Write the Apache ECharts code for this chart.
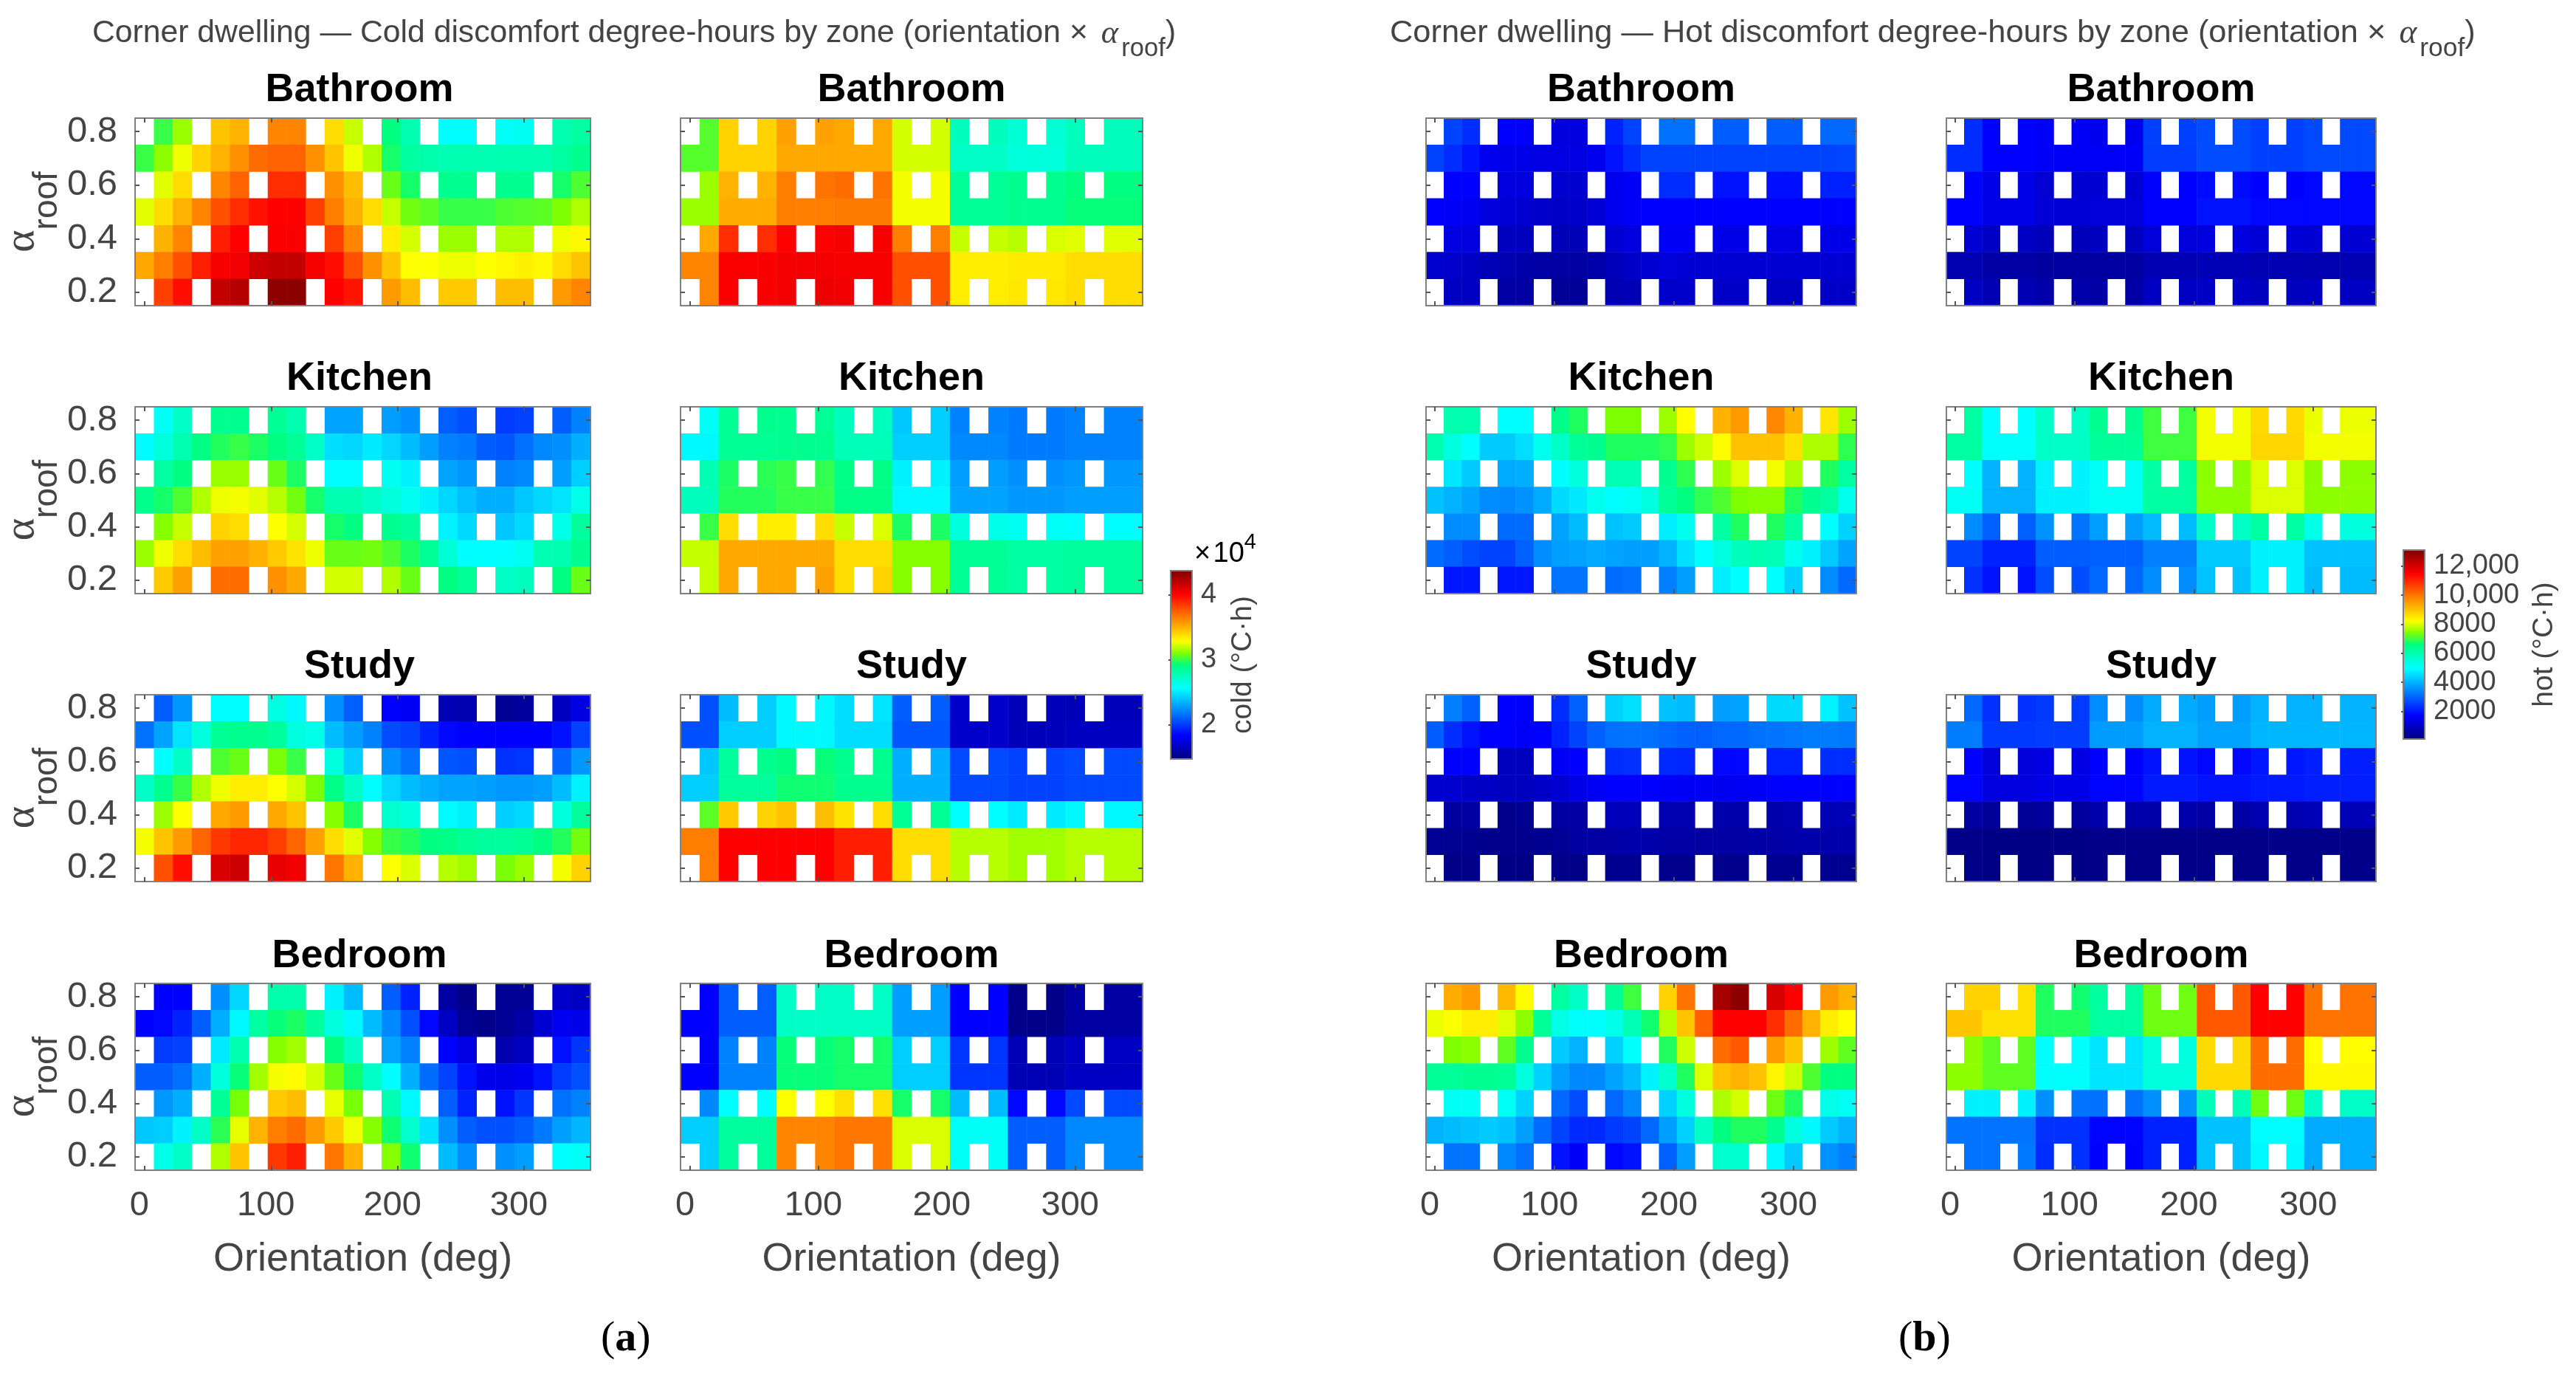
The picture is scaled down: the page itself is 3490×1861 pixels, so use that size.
<!DOCTYPE html>
<html>
<head>
<meta charset="utf-8">
<style>html,body{margin:0;padding:0;background:#fff}#chart{width:3490px;height:1861px}</style>
<script src="https://cdn.jsdelivr.net/npm/echarts@6/dist/echarts.min.js"></script>
</head>
<body>
<div id="chart"></div>
<script>
const _ = null;
const orientations = [0,15,30,45,60,75,90,105,120,135,150,165,180,195,210,225,240,255,270,285,300,315,330,345];
const alphaRoof = [0.8,0.7,0.6,0.5,0.4,0.3,0.2];
const xTicks = [0,100,200,300];
const yTicks = [0.2,0.4,0.6,0.8];
const zones = ['Bathroom','Kitchen','Study','Bedroom'];

// Cold discomfort, in units of 10^4 degC.h (rows run from alpha 0.8 down to 0.2)
const coldBathroomA = [
[_,3.00,3.14,_,3.45,3.50,_,3.63,3.63,_,3.38,3.20,_,2.92,2.78,_,2.56,2.56,_,2.58,2.60,_,2.78,2.83],
[3.00,3.12,3.26,3.41,3.50,3.60,3.70,3.73,3.73,3.60,3.45,3.26,3.17,2.95,2.83,2.80,2.78,2.78,2.78,2.78,2.78,2.78,2.83,2.88],
[_,3.24,3.38,_,3.63,3.73,_,3.88,3.88,_,3.60,3.47,_,3.07,2.95,_,2.88,2.88,_,2.88,2.88,_,2.95,3.03],
[3.24,3.38,3.50,3.63,3.78,3.88,3.96,4.01,4.01,3.83,3.65,3.50,3.38,3.20,3.08,3.05,3.00,3.00,3.00,3.03,3.04,3.05,3.10,3.17],
[_,3.50,3.63,_,3.92,4.01,_,4.02,4.02,_,3.83,3.63,_,3.33,3.22,_,3.14,3.14,_,3.17,3.17,_,3.26,3.30],
[3.53,3.65,3.78,3.92,4.03,4.05,4.15,4.18,4.18,4.03,3.97,3.78,3.60,3.45,3.28,3.28,3.26,3.26,3.28,3.30,3.32,3.30,3.38,3.45],
[_,3.83,3.97,_,4.18,4.22,_,4.33,4.33,_,4.01,3.95,_,3.57,3.47,_,3.43,3.43,_,3.47,3.47,_,3.57,3.63]];
const coldBathroomB = [
[_,3.04,3.41,_,3.41,3.55,_,3.55,3.53,_,3.53,3.22,_,3.22,2.75,_,2.75,2.68,_,2.68,2.75,_,2.75,2.75],
[3.04,3.04,3.41,3.41,3.41,3.53,3.53,3.53,3.53,3.53,3.53,3.22,3.22,3.22,2.72,2.72,2.72,2.66,2.66,2.66,2.75,2.75,2.75,2.75],
[_,3.14,3.50,_,3.50,3.65,_,3.68,3.70,_,3.68,3.27,_,3.27,2.85,_,2.85,2.88,_,2.88,2.92,_,2.92,2.92],
[3.14,3.14,3.52,3.52,3.52,3.65,3.65,3.65,3.66,3.66,3.66,3.27,3.27,3.27,2.85,2.85,2.85,2.88,2.88,2.88,2.93,2.93,2.93,2.93],
[_,3.53,3.88,_,3.88,4.01,_,4.01,4.03,_,4.03,3.65,_,3.65,3.20,_,3.20,3.18,_,3.23,3.24,_,3.24,3.24],
[3.63,3.63,4.02,4.02,4.02,4.04,4.04,4.04,4.03,4.03,4.03,3.78,3.78,3.78,3.33,3.33,3.33,3.34,3.34,3.34,3.38,3.38,3.38,3.38],
[_,3.63,4.02,_,4.02,4.04,_,4.06,4.05,_,4.03,3.78,_,3.78,3.33,_,3.33,3.35,_,3.35,3.38,_,3.38,3.38]];
const coldKitchenA = [
[_,2.58,2.72,_,2.88,2.88,_,2.86,2.78,_,2.30,2.30,_,2.28,2.24,_,2.10,2.06,_,2.00,2.02,_,2.10,2.20],
[2.55,2.66,2.78,2.92,2.97,3.00,2.96,2.92,2.86,2.72,2.46,2.44,2.50,2.44,2.37,2.28,2.20,2.18,2.10,2.08,2.15,2.22,2.24,2.33],
[_,2.83,2.92,_,3.14,3.14,_,3.07,2.96,_,2.56,2.56,_,2.60,2.52,_,2.30,2.26,_,2.20,2.22,_,2.28,2.42],
[2.88,2.95,3.03,3.17,3.26,3.27,3.24,3.18,3.08,2.95,2.78,2.78,2.72,2.66,2.60,2.52,2.44,2.38,2.33,2.33,2.40,2.44,2.48,2.62],
[_,3.11,3.20,_,3.41,3.38,_,3.28,3.22,_,2.95,2.92,_,2.88,2.84,_,2.52,2.45,_,2.40,2.45,_,2.62,2.84],
[3.14,3.26,3.38,3.47,3.55,3.55,3.50,3.43,3.36,3.26,3.07,3.07,3.08,3.03,2.96,2.85,2.68,2.56,2.56,2.56,2.60,2.78,2.78,2.88],
[_,3.43,3.55,_,3.70,3.70,_,3.60,3.53,_,3.22,3.22,_,3.17,3.07,_,2.92,2.85,_,2.72,2.75,_,2.92,3.07]];
const coldKitchenB = [
[_,2.58,2.86,_,2.88,2.88,_,2.86,2.75,_,2.75,2.40,_,2.42,2.20,_,2.20,2.18,_,2.18,2.20,_,2.20,2.20],
[2.54,2.54,2.86,2.86,2.86,2.88,2.88,2.88,2.76,2.76,2.76,2.42,2.42,2.42,2.22,2.22,2.22,2.18,2.18,2.18,2.20,2.20,2.20,2.20],
[_,2.78,2.96,_,2.98,3.00,_,2.99,2.90,_,2.90,2.52,_,2.52,2.28,_,2.28,2.24,_,2.24,2.26,_,2.26,2.26],
[2.75,2.75,2.97,2.97,2.97,3.00,3.00,3.00,2.90,2.90,2.90,2.54,2.54,2.54,2.30,2.30,2.30,2.26,2.26,2.26,2.28,2.28,2.28,2.28],
[_,3.00,3.38,_,3.33,3.33,_,3.38,3.20,_,3.23,2.96,_,2.96,2.65,_,2.62,2.60,_,2.58,2.56,_,2.56,2.56],
[3.20,3.20,3.53,3.53,3.53,3.53,3.53,3.53,3.38,3.38,3.38,3.11,3.11,3.11,2.86,2.86,2.86,2.82,2.82,2.82,2.84,2.84,2.84,2.84],
[_,3.20,3.53,_,3.53,3.53,_,3.55,3.38,_,3.41,3.11,_,3.11,2.86,_,2.86,2.82,_,2.82,2.84,_,2.84,2.84]];
const coldStudyA = [
[_,2.10,2.26,_,2.56,2.56,_,2.64,2.54,_,2.24,2.10,_,1.83,1.80,_,1.62,1.60,_,1.53,1.55,_,1.65,1.75],
[2.15,2.30,2.48,2.66,2.86,2.88,2.88,2.84,2.65,2.62,2.37,2.28,2.20,2.05,2.02,1.93,1.85,1.83,1.83,1.83,1.83,1.83,1.88,2.02],
[_,2.56,2.72,_,3.03,3.07,_,3.09,3.00,_,2.65,2.42,_,2.24,2.15,_,2.08,2.06,_,1.97,1.98,_,2.12,2.26],
[2.72,2.88,3.00,3.17,3.26,3.33,3.33,3.28,3.22,3.09,2.90,2.72,2.56,2.44,2.37,2.33,2.30,2.30,2.28,2.26,2.26,2.28,2.37,2.52],
[_,3.14,3.28,_,3.53,3.57,_,3.53,3.45,_,3.11,2.96,_,2.70,2.65,_,2.55,2.52,_,2.42,2.45,_,2.65,2.84],
[3.27,3.45,3.57,3.72,3.85,3.90,3.90,3.83,3.72,3.55,3.38,3.24,3.11,3.00,2.97,2.92,2.90,2.86,2.84,2.84,2.86,2.92,2.97,3.08],
[_,3.78,3.97,_,4.12,4.15,_,4.07,4.05,_,3.67,3.50,_,3.28,3.23,_,3.18,3.15,_,3.09,3.14,_,3.27,3.41]];
const coldStudyB = [
[_,2.06,2.37,_,2.42,2.54,_,2.54,2.46,_,2.48,2.10,_,2.10,1.68,_,1.68,1.63,_,1.63,1.63,_,1.63,1.63],
[2.06,2.06,2.42,2.42,2.42,2.54,2.54,2.54,2.46,2.46,2.46,2.08,2.08,2.08,1.68,1.68,1.68,1.63,1.63,1.63,1.65,1.65,1.65,1.65],
[_,2.40,2.84,_,2.88,2.92,_,2.93,2.88,_,2.88,2.33,_,2.33,2.04,_,2.04,2.02,_,2.02,2.04,_,2.04,2.04],
[2.42,2.42,2.84,2.84,2.84,2.94,2.94,2.94,2.88,2.88,2.88,2.33,2.33,2.33,2.04,2.04,2.04,2.02,2.02,2.02,2.04,2.04,2.04,2.04],
[_,3.05,3.43,_,3.41,3.45,_,3.47,3.36,_,3.38,2.86,_,2.86,2.56,_,2.56,2.50,_,2.50,2.54,_,2.54,2.54],
[3.65,3.65,4.01,4.01,4.01,4.01,4.01,4.01,3.92,3.92,3.92,3.38,3.38,3.38,3.18,3.18,3.18,3.15,3.15,3.15,3.18,3.18,3.18,3.18],
[_,3.65,4.01,_,4.01,4.01,_,4.01,3.92,_,3.92,3.38,_,3.38,3.18,_,3.18,3.15,_,3.15,3.18,_,3.18,3.18]];
const coldBedroomA = [
[_,1.83,1.83,_,2.24,2.44,_,2.80,2.80,_,2.52,2.37,_,2.10,1.93,_,1.57,1.50,_,1.53,1.53,_,1.68,1.66],
[1.83,1.85,1.93,2.10,2.33,2.54,2.82,2.93,2.96,2.84,2.65,2.54,2.37,2.22,2.06,1.85,1.66,1.52,1.50,1.53,1.58,1.70,1.79,1.77],
[_,2.00,2.02,_,2.50,2.78,_,3.11,3.15,_,2.92,2.72,_,2.30,2.20,_,1.83,1.75,_,1.60,1.65,_,1.88,1.98],
[2.10,2.10,2.15,2.33,2.66,2.93,3.15,3.27,3.29,3.22,3.07,2.94,2.72,2.56,2.33,2.14,2.02,1.88,1.78,1.77,1.79,1.88,2.00,2.06],
[_,2.26,2.33,_,2.86,3.09,_,3.43,3.47,_,3.25,3.09,_,2.78,2.54,_,2.10,1.93,_,1.88,1.98,_,2.15,2.20],
[2.40,2.42,2.52,2.72,2.98,3.25,3.50,3.65,3.70,3.57,3.43,3.26,3.11,2.94,2.70,2.47,2.24,2.10,2.06,2.06,2.10,2.18,2.28,2.35],
[_,2.62,2.72,_,3.17,3.45,_,3.85,3.92,_,3.67,3.50,_,3.11,2.94,_,2.37,2.24,_,2.24,2.28,_,2.56,2.58]];
const coldBedroomB = [
[_,1.83,2.10,_,2.10,2.72,_,2.72,2.72,_,2.72,2.28,_,2.28,1.83,_,1.83,1.50,_,1.50,1.57,_,1.57,1.57],
[1.83,1.83,2.10,2.10,2.10,2.72,2.72,2.72,2.72,2.72,2.72,2.28,2.28,2.28,1.83,1.83,1.83,1.50,1.50,1.50,1.57,1.57,1.57,1.57],
[_,1.83,2.20,_,2.20,2.93,_,2.93,2.95,_,2.95,2.42,_,2.42,1.98,_,1.98,1.62,_,1.62,1.66,_,1.66,1.66],
[1.83,1.83,2.20,2.20,2.20,2.93,2.93,2.93,2.95,2.95,2.95,2.42,2.42,2.42,1.98,1.98,1.98,1.62,1.62,1.62,1.66,1.66,1.66,1.66],
[_,2.22,2.56,_,2.56,3.28,_,3.28,3.37,_,3.37,2.95,_,2.95,2.37,_,2.37,1.85,_,1.85,2.04,_,2.04,2.04],
[2.42,2.42,2.84,2.84,2.84,3.63,3.63,3.63,3.67,3.67,3.67,3.23,3.23,3.23,2.58,2.58,2.58,2.10,2.10,2.10,2.22,2.22,2.22,2.22],
[_,2.42,2.84,_,2.84,3.63,_,3.63,3.67,_,3.67,3.23,_,3.23,2.58,_,2.58,2.10,_,2.10,2.22,_,2.22,2.22]];

// Hot discomfort, degC.h
const hotBathroomA = [
[_,2570,2300,_,1725,1700,_,1300,1300,_,2150,2570,_,3150,3150,_,2900,2900,_,2900,2900,_,3050,3050],
[2570,2300,1950,1500,1450,1400,1350,1350,1350,1500,1950,2300,2570,2570,2570,2570,2570,2570,2570,2570,2570,2570,2570,2600],
[_,1725,1725,_,1300,1300,_,1100,1100,_,1500,1650,_,2300,2300,_,1950,1950,_,1900,1900,_,2150,2150],
[1725,1650,1550,1300,1200,1100,1050,1000,1050,1200,1500,1650,1725,1725,1725,1725,1725,1725,1725,1725,1725,1725,1725,1725],
[_,1350,1300,_,900,900,_,800,800,_,1150,1300,_,1600,1600,_,1400,1400,_,1350,1350,_,1400,1400],
[1100,1050,950,800,700,650,600,550,550,650,850,1000,1150,1250,1200,1150,1150,1150,1150,1150,1150,1150,1150,1150],
[_,950,950,_,600,550,_,400,400,_,750,800,_,1050,1050,_,1000,1000,_,950,950,_,1000,1000]];
const hotBathroomB = [
[_,2300,1725,_,1725,1650,_,1650,1500,_,1500,2550,_,2550,2700,_,2700,2550,_,2550,2650,_,2650,2650],
[2300,2300,1725,1725,1725,1650,1650,1650,1650,1650,1650,2500,2500,2500,2700,2700,2700,2550,2550,2550,2650,2650,2650,2650],
[_,1725,1400,_,1400,1150,_,1150,1150,_,1150,1725,_,1725,1850,_,1850,1725,_,1725,1800,_,1800,1800],
[1725,1725,1400,1400,1400,1200,1200,1200,1250,1250,1250,1725,1725,1725,1950,1950,1950,1800,1800,1800,1800,1800,1800,1800],
[_,1150,950,_,950,850,_,850,900,_,900,1250,_,1250,1300,_,1300,1200,_,1200,1150,_,1150,1150],
[700,700,600,600,600,500,500,500,520,520,520,750,750,750,800,800,800,750,750,750,720,720,720,720],
[_,950,750,_,750,650,_,650,600,_,600,950,_,950,1000,_,1000,900,_,900,950,_,950,950]];
const hotKitchenA = [
[_,6000,6000,_,4975,4975,_,6500,6800,_,7400,7400,_,7600,8250,_,9200,9500,_,9750,9200,_,8550,7600],
[6000,5400,4950,4300,4300,4550,5200,5700,6300,6400,6800,6800,6800,6900,7600,7900,8250,9000,9000,9000,8600,7700,7700,6900],
[_,4700,4300,_,3900,3950,_,4975,5400,_,5900,5900,_,6400,6900,_,7600,8000,_,8150,7700,_,6800,6200],
[4200,4000,3800,3500,3450,3600,3900,4500,4700,5200,4975,5100,5400,6300,6600,6900,7100,7400,7450,7450,6800,6400,6200,5200],
[_,3500,3500,_,3100,3100,_,3800,4130,_,4200,4300,_,4750,5200,_,6200,6800,_,6800,6200,_,4975,4400],
[3100,2900,2700,2570,2570,2950,3500,3740,3800,3900,3800,3740,3740,4000,4600,4975,5400,5800,6000,5900,5200,4800,4300,3800],
[_,2000,2000,_,2000,2000,_,3200,3200,_,3100,3150,_,3350,3740,_,4750,4975,_,4975,4400,_,3500,3050]];
const hotKitchenB = [
[_,6200,4975,_,4975,5700,_,5700,6400,_,6400,7000,_,7000,8150,_,8150,8700,_,8700,8100,_,8100,8100],
[6200,6200,5000,5000,5000,5700,5700,5700,6300,6300,6300,7000,7000,7000,8150,8150,8150,8750,8750,8750,8150,8150,8150,8150],
[_,4975,4000,_,4000,4800,_,4800,5100,_,5100,6200,_,6200,7500,_,7500,8000,_,8000,7500,_,7500,7500],
[5100,5100,4000,4000,4000,4800,4800,4800,5100,5100,5100,6200,6200,6200,7500,7500,7500,8000,8000,8000,7500,7500,7500,7500],
[_,3500,2950,_,2950,3600,_,3200,3740,_,3740,4130,_,4130,5700,_,5700,6200,_,6200,5300,_,5400,5400],
[2570,2570,2150,2150,2150,2900,2900,2900,2950,2950,2950,3350,3350,3350,4300,4300,4300,4800,4800,4800,4200,4200,4200,4200],
[_,2350,1950,_,1950,2700,_,2700,3050,_,3050,3500,_,3500,4200,_,4200,4800,_,4800,4130,_,4130,4130]];
const hotStudyA = [
[_,3350,2950,_,1725,1725,_,2300,2950,_,4400,4600,_,4200,4130,_,3740,3800,_,4500,4500,_,4800,4200],
[2900,2300,1950,1725,1700,1650,1725,2150,2570,2950,3150,3200,3150,3050,2950,2950,3050,3050,3150,3200,3250,3300,3300,3250],
[_,1725,1700,_,900,900,_,1600,1725,_,2300,2350,_,2250,2200,_,1800,1800,_,2150,2150,_,2300,2300],
[1100,1100,1000,950,900,900,1000,1150,1400,1600,1725,1725,1725,1650,1600,1600,1550,1600,1650,1700,1725,1725,1725,1725],
[_,500,500,_,250,300,_,500,600,_,850,850,_,700,700,_,650,650,_,650,700,_,800,800],
[350,320,300,250,250,250,300,350,500,550,600,650,650,600,600,550,550,550,600,600,650,650,650,650],
[_,200,200,_,150,150,_,200,200,_,300,300,_,250,250,_,250,250,_,300,300,_,300,300]];
const hotStudyB = [
[_,3050,2350,_,2350,2450,_,2450,3500,_,3500,3900,_,3900,3740,_,3740,4000,_,4000,4000,_,4000,4000],
[3300,3300,2450,2450,2450,2500,2500,2500,3700,3700,3700,4000,4000,4000,3800,3800,3800,4050,4050,4050,4050,4050,4050,4050],
[_,1725,1250,_,1250,1350,_,1350,1725,_,1725,1950,_,1950,1800,_,1800,2000,_,2000,2100,_,2100,2100],
[1750,1750,1300,1300,1300,1400,1400,1400,1750,1750,1750,2050,2050,2050,1950,1950,1950,2050,2050,2050,2100,2100,2100,2100],
[_,500,400,_,400,450,_,450,650,_,650,650,_,650,600,_,600,700,_,700,800,_,800,800],
[200,200,170,170,170,180,180,180,230,230,230,230,230,230,220,220,220,230,230,230,240,240,240,240],
[_,200,160,_,160,170,_,170,220,_,220,220,_,220,210,_,210,220,_,220,240,_,240,240]];
const hotBedroomA = [
[_,9300,9500,_,9100,8250,_,6200,5700,_,6300,7000,_,8800,10000,_,12600,12950,_,12000,11475,_,9500,9200],
[8100,8200,8450,8450,8000,7500,6300,5300,5000,4975,5300,5900,6700,7750,8950,10240,11475,11475,11475,10900,10100,9200,8450,8250],
[_,7400,7500,_,7200,6400,_,4300,4000,_,4400,4975,_,6800,7900,_,10100,10350,_,9500,8950,_,7600,7200],
[6300,6300,6400,6400,6300,5400,4400,3740,3450,3450,3800,4130,4800,5600,6800,8000,9000,9200,9000,8350,7900,7100,6600,6600],
[_,5100,5100,_,5100,4400,_,3050,2700,_,3050,3450,_,4400,5400,_,7700,7950,_,7300,6800,_,5300,5100],
[4000,4130,4200,4300,4200,3740,3100,2570,2250,2250,2450,2570,3050,3740,4400,5700,6600,6800,6800,6400,5400,4900,4300,4000],
[_,3200,3200,_,3450,3150,_,1950,1650,_,1800,1950,_,2950,3740,_,5600,5600,_,4900,4300,_,3600,3350]];
const hotBedroomB = [
[_,8800,8800,_,8600,6800,_,6700,6200,_,6200,7300,_,7300,10350,_,10350,11475,_,11475,10000,_,10000,10000],
[8950,8950,8600,8600,8600,6800,6800,6800,6200,6200,6200,7300,7300,7300,10350,10350,10350,11475,11475,11475,10000,10000,10000,10000],
[_,7500,7200,_,7200,5000,_,5000,4650,_,4650,5400,_,5400,8700,_,8700,10100,_,10100,8250,_,8250,8250],
[7500,7500,7200,7200,7200,5000,5000,5000,4650,4650,4650,5400,5400,5400,8700,8700,8700,10100,10100,10100,8300,8300,8300,8300],
[_,4800,4800,_,4800,3550,_,3200,3150,_,3150,3550,_,3550,5900,_,5900,7300,_,7300,5700,_,5700,5700],
[3200,3200,3200,3200,3200,2350,2350,2350,1750,1750,1750,2150,2150,2150,4200,4200,4200,4975,4975,4975,3900,3900,3900,3900],
[_,3200,3200,_,3250,2300,_,2350,1725,_,1725,2150,_,2150,4200,_,4200,4900,_,4900,3900,_,3900,3900]];

const coldRange = [1.47,4.37];
const hotRange = [100,13100];
const coldBarTicks = [2,3,4];
const hotBarTicks = [2000,4000,6000,8000,10000,12000];
const hotBarLabels = ['2000','4000','6000','8000','10,000','12,000'];

const jet = ['#000080','#0000c0','#0000ff','#0040ff','#0080ff','#00bfff','#00ffff','#00ffc0','#00ff80','#80ff00','#ffff00','#ffbf00','#ff8000','#ff4000','#ff0000','#bf0000','#800000'];

const panelData = [
  coldBathroomA,coldBathroomB,coldKitchenA,coldKitchenB,coldStudyA,coldStudyB,coldBedroomA,coldBedroomB,
  hotBathroomA,hotBathroomB,hotKitchenA,hotKitchenB,hotStudyA,hotStudyB,hotBedroomA,hotBedroomB
];

const FONT = 'Liberation Sans';
const GREY = '#444444';
const AX = '#808080';
const colX = [[174,626],[922,626],[1932,583],[2637,582]];
const rowY = [[160,254],[551,253],[941,253],[1332,253]];
const titleTop = [95,486,876,1268];

const grid=[],xAxis=[],yAxis=[],series=[],title=[];
panelData.forEach((data,i)=>{
  const side = i<8 ? 0 : 1;
  const r = Math.floor((i%8)/2), c = (i%8)%2;
  const [gx,gw] = colX[side*2+c];
  const [gy,gh] = rowY[r];
  grid.push({left:gx,top:gy,width:gw,height:gh,containLabel:false});
  const bottomRow = r===3, hasY = side===0 && c===0;
  const xBase = {gridIndex:i,type:'value',min:-7.5,max:352.5,splitLine:{show:false},z:5,
    axisLine:{show:true,onZero:false,lineStyle:{color:AX,width:2}},
    axisTick:{show:true,inside:true,length:6,customValues:xTicks,lineStyle:{color:'#555',width:2}}};
  const yBase = {gridIndex:i,type:'value',min:0.15,max:0.85,splitLine:{show:false},z:5,
    axisLine:{show:true,onZero:false,lineStyle:{color:AX,width:2}},
    axisTick:{show:true,inside:true,length:6,customValues:yTicks,lineStyle:{color:'#555',width:2}}};
  xAxis.push({gridIndex:i,type:'category',show:false,data:orientations});
  xAxis.push(Object.assign({},xBase,{position:'bottom',
    axisLabel:{show:bottomRow,customValues:xTicks,margin:25,padding:[0,14,0,0],fontFamily:FONT,fontSize:47,color:GREY,formatter:v=>String(v)},
    name:bottomRow?'Orientation (deg)':'',nameLocation:'middle',nameGap:94,
    nameTextStyle:{fontFamily:FONT,fontSize:54,color:GREY}}));
  xAxis.push(Object.assign({},xBase,{position:'top',axisLabel:{show:false}}));
  yAxis.push({gridIndex:i,type:'category',show:false,inverse:true,data:alphaRoof});
  yAxis.push(Object.assign({},yBase,{position:'left',
    axisLabel:{show:hasY,customValues:yTicks,margin:24,padding:[4,0,0,0],fontFamily:FONT,fontSize:49,color:GREY,formatter:v=>v.toFixed(1)},
    name:hasY?'{a|α}{r|roof}':'',nameLocation:'middle',nameRotate:90,nameGap:96,
    nameTextStyle:{padding:[0,0,0,0],rich:{
      a:{fontFamily:'Liberation Serif',fontSize:58,color:GREY,lineHeight:40,verticalAlign:'top'},
      r:{fontFamily:FONT,fontSize:46,color:GREY,lineHeight:86,verticalAlign:'bottom'}}}}));
  yAxis.push(Object.assign({},yBase,{position:'right',axisLabel:{show:false}}));
  const cells=[];
  data.forEach((row,ry)=>row.forEach((v,cx)=>{ if(v!==null) cells.push([cx,ry,v]); }));
  series.push({type:'heatmap',name:zones[r],xAxisIndex:3*i,yAxisIndex:3*i,data:cells,progressive:0,
    itemStyle:{borderWidth:0},emphasis:{disabled:true}});
  title.push({text:zones[r],left:gx+gw/2,top:titleTop[r],textAlign:'center',padding:0,
    textStyle:{fontFamily:FONT,fontWeight:'bold',fontSize:54,color:'#000',lineHeight:54}});
});

function barAxes(idx,left,top,h,range,ticks,labels,name,gap){
  grid.push({left:left,top:top,width:29,height:h,show:true,borderColor:AX,borderWidth:2,backgroundColor:'transparent',z:6});
  xAxis.push({gridIndex:idx,type:'value',show:false,min:0,max:1});
  yAxis.push({gridIndex:idx,type:'value',position:'right',min:range[0],max:range[1],splitLine:{show:false},z:7,
    axisLine:{show:false},
    axisTick:{show:true,inside:true,length:3,customValues:ticks,lineStyle:{color:'#555',width:2}},
    axisLabel:{customValues:ticks,margin:12,padding:[8,0,0,0],fontFamily:FONT,fontSize:38,color:GREY,
      formatter:v=>labels?labels[ticks.indexOf(v)]:String(v)},
    name:name,nameLocation:'middle',nameRotate:90,nameGap:gap,
    nameTextStyle:{fontFamily:FONT,fontSize:39,color:GREY}});
}
barAxes(16,1586,773,255,coldRange,coldBarTicks,null,'cold (°C·h)',50);
barAxes(17,3256,745,256,hotRange,hotBarTicks,hotBarLabels,'hot (°C·h)',143);

function richTitle(size){
  return {
    t:{fontFamily:FONT,fontWeight:'normal',fontSize:size,color:GREY,lineHeight:44,verticalAlign:'top'},
    a:{fontFamily:'Liberation Serif',fontWeight:'normal',fontStyle:'italic',fontSize:size+2,color:GREY,lineHeight:44,verticalAlign:'top',padding:[0,0,0,6]},
    s:{fontFamily:FONT,fontWeight:'normal',fontSize:size-8,color:GREY,lineHeight:84,padding:[0,0,0,4]}
  };
}
title.push({text:'{t|Corner dwelling — Cold discomfort degree-hours by zone (orientation × }{a|α}{s|roof}{t|)}',left:125,top:24,padding:0,textStyle:{fontWeight:'normal',rich:richTitle(42.7)}});
title.push({text:'{t|Corner dwelling — Hot discomfort degree-hours by zone (orientation × }{a|α}{s|roof}{t|)}',left:1883,top:24,padding:0,textStyle:{fontWeight:'normal',rich:richTitle(43.4)}});

const panelRich = {
  p:{fontFamily:'Liberation Serif',fontSize:58,color:'#111'},
  b:{fontFamily:'Liberation Serif',fontSize:58,fontWeight:'bold',color:'#000'}
};
const graphic = [
  {type:'text',left:814,top:1785,style:{rich:panelRich,text:'{p|(}{b|a}{p|)}'}},
  {type:'text',left:2572,top:1785,style:{rich:panelRich,text:'{p|(}{b|b}{p|)}'}},
  {type:'text',left:1618,top:720,style:{text:'{x|×} {n|10}{e|4}',rich:{
    x:{fontFamily:FONT,fontSize:38,color:GREY,lineHeight:50,verticalAlign:'bottom'},
    n:{fontFamily:FONT,fontSize:38,color:GREY,lineHeight:50,verticalAlign:'bottom'},
    e:{fontFamily:FONT,fontSize:29,color:GREY,lineHeight:30,verticalAlign:'top'}}}}
];

const visualBase = {type:'continuous',dimension:2,calculable:false,orient:'vertical',padding:0,itemWidth:29,
  text:null,showLabel:false,inRange:{color:jet},hoverLink:false,
  textStyle:{fontSize:1,color:'transparent'}};
const visualMap = [
  Object.assign({},visualBase,{min:coldRange[0],max:coldRange[1],seriesIndex:[0,1,2,3,4,5,6,7],left:1586,top:773,itemHeight:255}),
  Object.assign({},visualBase,{min:hotRange[0],max:hotRange[1],seriesIndex:[8,9,10,11,12,13,14,15],left:3256,top:745,itemHeight:256})
];

const chart = echarts.init(document.getElementById('chart'),null,{renderer:'canvas',width:3490,height:1861});
chart.setOption({animation:false,backgroundColor:'#ffffff',title,grid,xAxis,yAxis,series,visualMap,graphic,tooltip:{show:false}});
</script>
</body>
</html>
